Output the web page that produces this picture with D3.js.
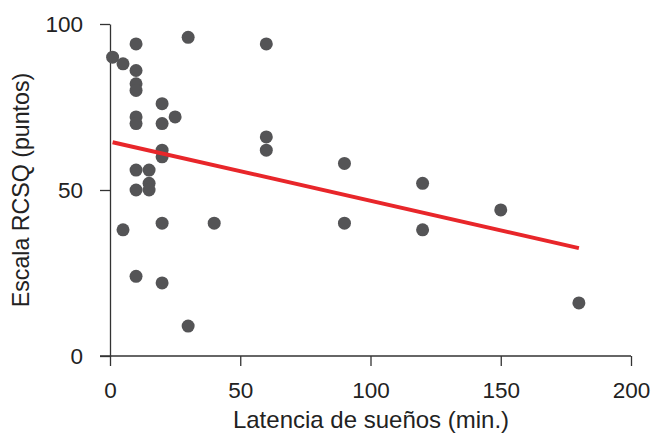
<!DOCTYPE html>
<html lang="es">
<head>
<meta charset="UTF-8">
<title>Latencia de sueños vs Escala RCSQ</title>
<script src="https://d3js.org/d3.v7.min.js"></script>
<style>
  body { margin: 0; background: #fff; }
  text { font-family: "Liberation Sans", Arial, sans-serif; fill: #222; }
</style>
</head>
<body>
<svg id="chart"></svg>
<script>
// latencia (min.) and RCSQ score per subject
const latencia = [1, 5, 10, 10, 10, 10, 10, 10, 30, 60, 20, 25, 20, 60, 60, 20, 20,
                  10, 15, 15, 10, 15, 5, 20, 40, 10, 20, 30, 90, 90, 120, 120, 150, 180];
const rcsq     = [90, 88, 94, 86, 82, 80, 72, 70, 96, 94, 76, 72, 70, 66, 62, 62, 60,
                  56, 56, 52, 50, 50, 38, 40, 40, 24, 22, 9, 58, 40, 52, 38, 44, 16];
const xTicks = [0, 50, 100, 150, 200];
const yTicks = [0, 50, 100];
// regression line as drawn
const trendX = [1, 180];
const trendY = [64.4, 32.5];

const width = 653, height = 439;
const margin = {top: 24, right: 22, bottom: 83, left: 110};

const svg = d3.select("#chart").attr("width", width).attr("height", height);

const x = d3.scaleLinear().domain([0, 200]).range([margin.left, width - margin.right]);
const y = d3.scaleLinear().domain([0, 100]).range([height - margin.bottom, margin.top]);

const xAxis = svg.append("g")
    .attr("transform", `translate(0,${y(0)})`)
    .call(d3.axisBottom(x).tickValues(xTicks).tickSize(10).tickPadding(16).tickSizeOuter(0));
const yAxis = svg.append("g")
    .attr("transform", `translate(${x(0)},0)`)
    .call(d3.axisLeft(y).tickValues(yTicks).tickSize(10).tickPadding(17).tickSizeOuter(0));

[xAxis, yAxis].forEach(g => {
    g.select(".domain").attr("stroke", "#333").attr("stroke-width", 1.3);
    g.selectAll(".tick line").attr("stroke", "#333").attr("stroke-width", 1.3);
    g.selectAll(".tick text").attr("font-size", 22.5).attr("font-family", "Liberation Sans, Arial, sans-serif").attr("fill", "#222");
});
// extend x-axis line to the left to meet the y tick
xAxis.select(".domain").attr("d", `M${x(0) - 10},0H${x(200)}`);

const pts = latencia.map((d, i) => ({x: d, y: rcsq[i]}));
svg.append("g").selectAll("circle")
    .data(pts)
    .enter().append("circle")
    .attr("cx", d => x(d.x))
    .attr("cy", d => y(d.y))
    .attr("r", 6.5)
    .attr("fill", "#545456");

svg.append("line")
    .attr("x1", x(trendX[0])).attr("y1", y(trendY[0]))
    .attr("x2", x(trendX[1])).attr("y2", y(trendY[1]))
    .attr("stroke", "#e8262a").attr("stroke-width", 4);

svg.append("text")
    .attr("x", 371).attr("y", 428)
    .attr("text-anchor", "middle").attr("font-size", 24)
    .text("Latencia de sueños (min.)");

svg.append("text")
    .attr("transform", `translate(29,${(y(0) + y(100)) / 2}) rotate(-90)`)
    .attr("text-anchor", "middle").attr("font-size", 23.2)
    .text("Escala RCSQ (puntos)");
</script>
</body>
</html>
